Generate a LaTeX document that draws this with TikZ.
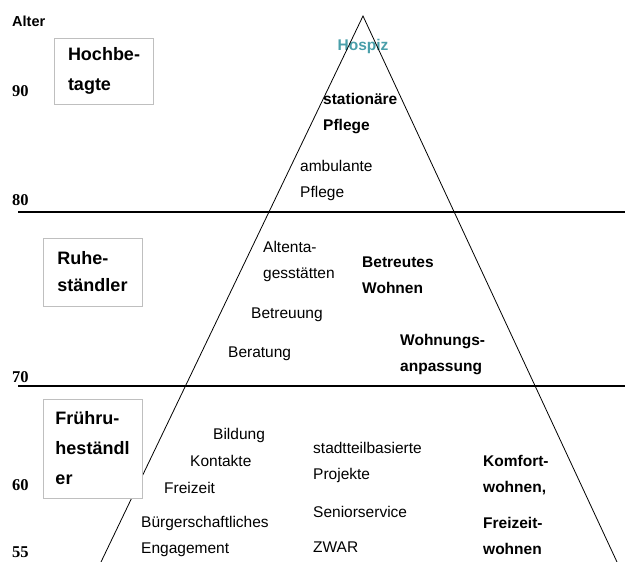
\documentclass[tikz,border=0pt]{standalone}
\usepackage{fontspec}
\setmainfont{Liberation Sans}
\newfontfamily\zahlfont{Liberation Serif}
\definecolor{hospizteal}{HTML}{4A9FAA}

\begin{document}
\begin{tikzpicture}[x=1pt,y=-1pt,
    txt/.style={anchor=west,inner sep=0pt,align=left,font=\fontsize{15.5}{26}\selectfont},
    btxt/.style={txt,font=\fontsize{15.5}{26}\selectfont\bfseries},
    alt/.style={anchor=west,inner sep=0pt,font=\zahlfont\fontsize{16.5}{16}\selectfont\bfseries},
    gruppe/.style={draw=black!25,fill=white,rectangle,align=left,inner sep=0pt,
        minimum width=99pt,font=\fontsize{18}{30}\selectfont\bfseries}]

  \useasboundingbox (0,0) rectangle (625,562);

    % Altersachse
    \node[anchor=west,inner sep=0pt,font=\fontsize{14.5}{14}\selectfont\bfseries] (alter) at (12,21) {Alter};
    \node[alt] (a90) at (12,91.5) {90};
    \node[alt] (a80) at (12,200) {80};
    \node[alt] (a70) at (12,377) {70};
    \node[alt] (a60) at (12,485) {60};
    \node[alt] (a55) at (12,552) {55};

    %%%%%%%%%%OBERE STUFE%%%%%%%%%%%%%%%%
    \node[font=\fontsize{15.5}{26}\selectfont\bfseries,text=hospizteal,inner sep=0pt] (hospiz) at (363,46) {Hospiz};
    \node[btxt] (stat) at (323,113.5) {stationäre\\Pflege};
    \node[txt] (amb) at (300,180) {ambulante\\Pflege};

    %%%%%%%%%%MITTLERE STUFE%%%%%%%%%%%%%%%%
    \node[txt] (alten) at (263,261.5) {Altenta-\\gesstätten};
    \node[btxt] (betreut) at (362,275) {Betreutes\\Wohnen};
    \node[txt] (betreuung) at (251,315) {Betreuung};
    \node[txt] (beratung) at (228,354) {Beratung};
    \node[btxt] (anpass) at (400,355) {Wohnungs-\\anpassung};

    %%%%%%%%%%UNTERE STUFE%%%%%%%%%%%%%%%%
    \node[txt] (bildung) at (213,435) {Bildung};
    \node[txt] (kontakte) at (190,461) {Kontakte};
    \node[txt] (freizeit) at (164,488) {Freizeit};
    \node[txt] (buerger) at (141,536) {Bürgerschaftliches\\Engagement};
    \node[txt] (stadtteil) at (313,462.5) {stadtteilbasierte\\Projekte};
    \node[txt] (senior) at (313,512) {Seniorservice};
    \node[txt] (zwar) at (313,547) {ZWAR};
    \node[btxt] (komfort) at (483,475.5) {Komfort-\\wohnen,};
    \node[btxt] (freiwohn) at (483,535.5) {Freizeit-\\wohnen};

    % Pyramide und Grenzen
    \coordinate (spitze) at (363,16);
    \coordinate (fussl) at (101,562);
    \coordinate (fussr) at (617,562);
    \coordinate (l80) at (18,212);
    \coordinate (r80) at (625,212);
    \coordinate (l70) at (18,386);
    \coordinate (r70) at (625,386);

    \draw[line width=0.8pt] (fussl) -- (spitze) -- (fussr);
    \draw[line width=1.1pt] (l80) -- (r80);
    \draw[line width=1.1pt] (l70) -- (r70);

    % Gruppen links
    \node[gruppe,minimum height=66pt] (hochbe) at (104,71) {Hochbe-\\tagte};
    \node[gruppe,minimum height=68pt,font=\fontsize{18}{27}\selectfont\bfseries] (ruhe) at (92.5,272) {Ruhe-\\ständler};
    \node[gruppe,minimum height=99pt] (fruehru) at (92.5,448.5) {Frühru-\\heständl\\er};

  \end{tikzpicture}
\end{document}
